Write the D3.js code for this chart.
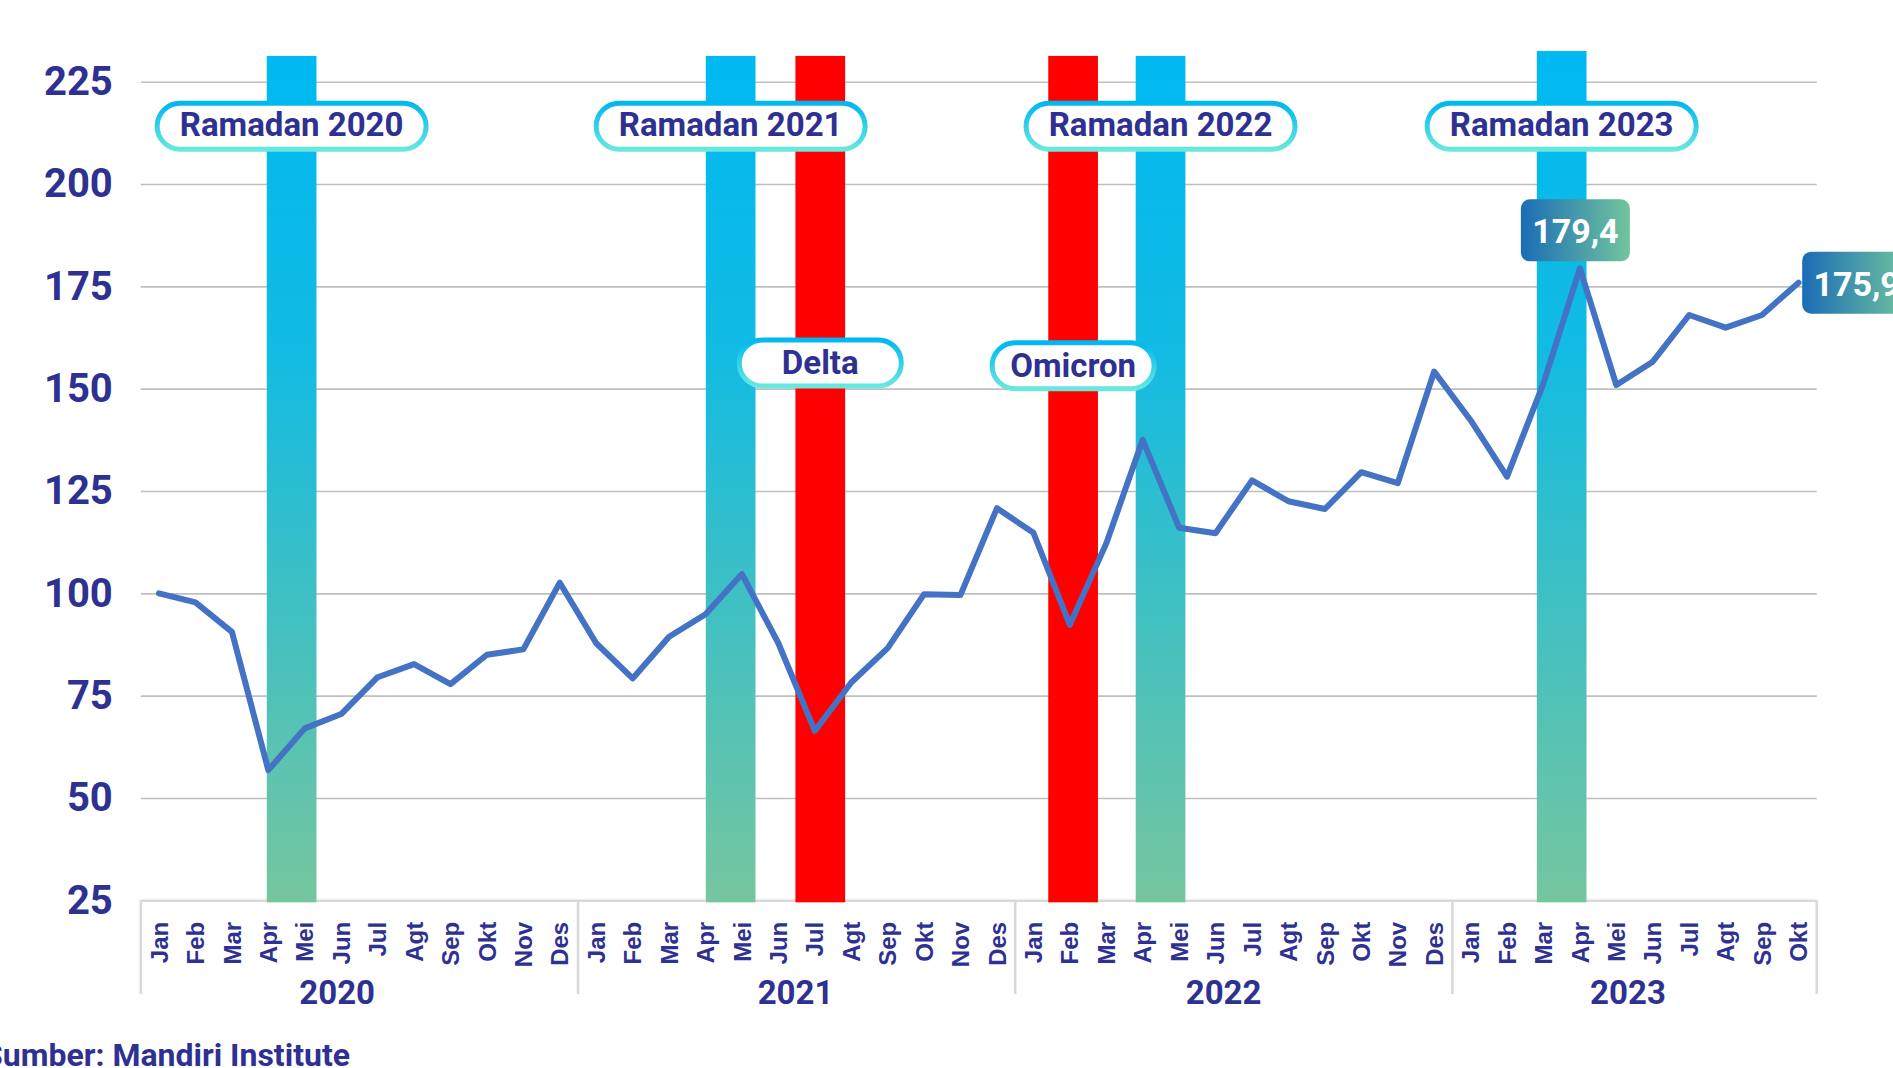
<!DOCTYPE html>
<head>
  <meta charset="utf-8">
  <style>
    body { margin: 0; background: #fff; }
    svg { display: block; }
    text { font-family: Roboto, 'Noto Sans', sans-serif; font-weight: 700; fill: #2e3192; }
  </style>
  <script src="https://cdn.jsdelivr.net/npm/d3@7/dist/d3.min.js"></script>
</head>
<body>
<div id=chart></div>
<script>
// monthly index, Jan 2020 = 100
const months = ['Jan', 'Feb', 'Mar', 'Apr', 'Mei', 'Jun', 'Jul', 'Agt', 'Sep', 'Okt', 'Nov', 'Des']
const years = ['2020', '2021', '2022', '2023']
const monthsInYear = [12, 12, 12, 10]
const yearLabelAt = [5.39, 17.97, 29.72, 40.82] // months since Jan 2020
const values = [
  100.0, 97.8, 90.6, 56.8, 67.0, 70.5, 79.5, 82.7, 77.8, 85.0, 86.3, 102.6,
  87.8, 79.2, 89.4, 94.9, 104.7, 87.8, 66.4, 78.2, 86.6, 99.8, 99.6, 120.8,
  114.8, 92.3, 112.2, 137.5, 116.0, 114.7, 127.6, 122.5, 120.6, 129.6, 126.9, 154.2,
  142.3, 128.5, 151.3, 179.4, 150.9, 156.6, 168.0, 164.9, 168.0, 175.9,
]
const yTicks = [25, 50, 75, 100, 125, 150, 175, 200, 225]

// highlighted periods (position in months since Jan 2020, bar top in index units)
const eventNames = ['Ramadan 2020', 'Ramadan 2021', 'Delta', 'Omicron', 'Ramadan 2022', 'Ramadan 2023']
const eventKind = ['ramadan', 'ramadan', 'covid', 'covid', 'ramadan', 'ramadan']
const eventAt = [3.64, 15.69, 18.15, 25.09, 27.49, 38.50]
const eventTop = [231.3, 231.3, 231.3, 231.3, 231.3, 232.5]
const eventLabelAt = [214.1, 214.1, 156.3, 155.6, 214.1, 214.1]

// value callouts
const calloutIndex = [39, 45]
const calloutText = ['179,4', '175,9']
const calloutSide = ['above', 'right']

const source = 'Sumber: Mandiri Institute'

const width = 1893, height = 1068
const left = 140.8, right = 1816.7, axisY = 900.3
const n = values.length

const svg = d3.select('#chart').append('svg')
  .attr('width', width).attr('height', height)
  .attr('viewBox', [0, 0, width, height])

const xi = d3.scaleLinear([0, n], [left, right])
const xBand = d3.scaleBand(d3.range(n), [left, right])
const y = d3.scaleLinear([25, 225], [axisY, 81.7])
const cx = i => xi(i + 0.5)

const defs = svg.append('defs')
const grad = (id, x2, y2, stops) => {
  const g = defs.append('linearGradient').attr('id', id)
    .attr('x1', 0).attr('y1', 0).attr('x2', x2).attr('y2', y2)
  stops.forEach(([o, c]) => g.append('stop').attr('offset', o).attr('stop-color', c))
}
grad('ramadanFill', 0, 1, [[0, '#00b9f2'], [0.35, '#12bbe2'], [1, '#76c69f']])
grad('pillStroke', 0, 1, [[0, '#00b8f0'], [1, '#68e8de']])
grad('calloutFill', 1, 0, [[0, '#1a6cb6'], [1, '#72c59d']])

// y gridlines + labels
svg.append('g')
  .attr('transform', `translate(${left},0)`)
  .call(d3.axisLeft(y).tickValues(yTicks).tickSize(-(right - left)).tickPadding(28))
  .call(g => g.select('.domain').remove())
  .call(g => g.selectAll('.tick line')
    .attr('stroke', d => d === 25 ? '#d9d9d9' : '#bfbfbf')
    .attr('stroke-width', d => d === 25 ? 2.5 : 1.6))
  .call(g => g.selectAll('.tick text')
    .attr('fill', '#2e3192')
    .style('font-family', 'Roboto')
    .style('font-weight', 700)
    .style('font-size', '40px'))

// highlighted periods
const barW = 49.7
svg.append('g').selectAll('rect')
  .data(eventNames)
  .join('rect')
    .attr('x', (d, i) => cx(eventAt[i]) - barW / 2)
    .attr('width', barW)
    .attr('y', (d, i) => y(eventTop[i]))
    .attr('height', (d, i) => y(24.5) - y(eventTop[i]))
    .attr('fill', (d, i) => eventKind[i] === 'ramadan' ? 'url(#ramadanFill)' : '#ff0000')

// index line
svg.append('path')
  .attr('fill', 'none')
  .attr('stroke', '#4472c4')
  .attr('stroke-width', 6)
  .attr('stroke-linejoin', 'round')
  .attr('stroke-linecap', 'round')
  .attr('d', d3.line().x((d, i) => cx(i)).y(d => y(d))(values))

// period labels
const pills = svg.append('g').selectAll('g')
  .data(eventNames)
  .join('g')
    .attr('transform', (d, i) => `translate(${cx(eventAt[i])},${y(eventLabelAt[i])})`)
pills.append('rect')
  .attr('x', (d, i) => -(eventKind[i] === 'ramadan' ? 274 : 167) / 2 + 2.5)
  .attr('width', (d, i) => (eventKind[i] === 'ramadan' ? 274 : 167) - 5)
  .attr('y', -23).attr('height', 46).attr('rx', 23)
  .attr('fill', '#fff')
  .attr('stroke', 'url(#pillStroke)')
  .attr('stroke-width', 5)
pills.append('text')
  .attr('text-anchor', 'middle')
  .attr('y', (d, i) => eventKind[i] === 'ramadan' ? 9.5 : 11.5)
  .style('font-size', '33px')
  .text(d => d)

// x axis: months, year separators, years
svg.append('g')
  .attr('transform', `translate(0,${axisY})`)
  .call(d3.axisBottom(xBand).tickSize(0).tickPadding(0).tickFormat(i => months[i % 12]))
  .call(g => g.select('.domain').remove())
  .call(g => g.selectAll('.tick text')
    .attr('transform', 'rotate(-90)')
    .attr('text-anchor', 'end')
    .attr('x', -21.5)
    .attr('y', 0)
    .attr('dy', '0.36em')
    .attr('fill', '#2e3192')
    .style('font-family', "'Liberation Sans', Arial, sans-serif")
    .style('font-weight', 700)
    .style('font-size', '24px'))

const yearStart = d3.cumsum([0, ...monthsInYear])
svg.append('g').selectAll('line')
  .data(yearStart)
  .join('line')
    .attr('x1', d => xi(d)).attr('x2', d => xi(d))
    .attr('y1', axisY).attr('y2', 994)
    .attr('stroke', '#d9d9d9').attr('stroke-width', 2.5)

svg.append('g').selectAll('text')
  .data(years)
  .join('text')
    .attr('x', (d, i) => xi(yearLabelAt[i]))
    .attr('y', 1004)
    .attr('text-anchor', 'middle')
    .style('font-size', '33px')
    .text(d => d)

// value callouts
const callouts = svg.append('g').selectAll('g')
  .data(calloutText)
  .join('g')
    .attr('transform', (d, i) => {
      const px = cx(calloutIndex[i]), py = y(values[calloutIndex[i]])
      return calloutSide[i] === 'above'
        ? `translate(${px - 59},${py - 69})`
        : `translate(${px + 3.7},${py - 31})`
    })
callouts.append('rect')
  .attr('width', 109).attr('height', 62).attr('rx', 9)
  .attr('fill', 'url(#calloutFill)')
callouts.append('text')
  .attr('x', 54.5).attr('y', 44)
  .attr('text-anchor', 'middle')
  .style('fill', '#fff')
  .style('font-size', '34px')
  .text(d => d)

svg.append('text')
  .attr('x', 350).attr('y', 1066)
  .attr('text-anchor', 'end')
  .style('font-size', '32px')
  .text(source)
</script>
</body>
